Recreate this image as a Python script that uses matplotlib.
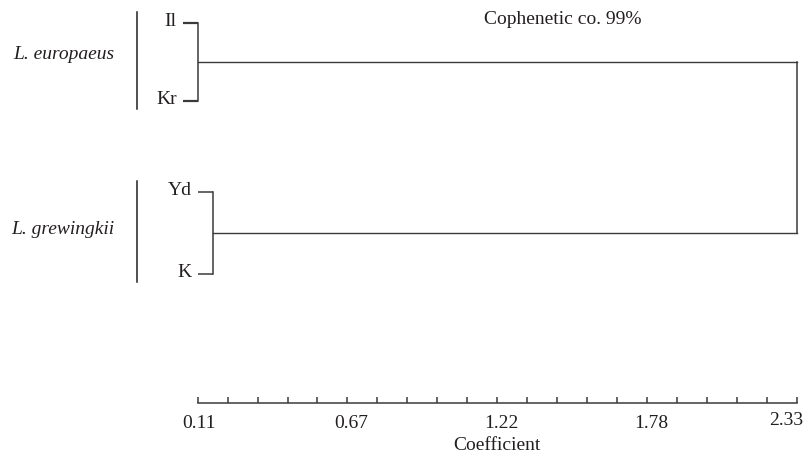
import numpy as np
import matplotlib
matplotlib.use("Agg")
import matplotlib.pyplot as plt
import matplotlib.transforms as mtransforms

# leaves, top to bottom, and the group they belong to
leaves = ["Il", "Kr", "Yd", "K"]
groups = ["L. europaeus", "L. grewingkii"]
group_members = [[0, 1], [2, 3]]
# coefficient where each pair joins, and the root join
pair_join = [0.11, 0.167]
root_join = 2.33
# axis ticks
tick_min, tick_max = 0.11, 2.33
tick_labels = ["0.11", "0.67", "1.22", "1.78", "2.33"]
title_txt = "Cophenetic co. 99%"
xlabel_txt = "Coefficient"

# layout (vertical positions in pixel rows, top = 0)
leaf_y = [22.7, 101, 192, 274]
stub = 0.056
axis_y = 402.7
W, H = 806, 457
px_unit = 269.8

plt.rcParams["font.family"] = ["Liberation Serif", "DejaVu Serif"]
col = "#231f20"
lcol = "#3a3a3a"

fig = plt.figure(figsize=(W / 100, H / 100), dpi=100)
ax = fig.add_axes([0, 0, 1, 1])
ax.set_xlim(tick_min - 197.7 / px_unit, tick_min - 197.7 / px_unit + W / px_unit)
ax.set_ylim(H, 0)

bt = mtransforms.blended_transform_factory(ax.transAxes, ax.transData)

# dendrogram
mids = []
for g, members in enumerate(group_members):
    j = pair_join[g]
    ys = [leaf_y[m] for m in members]
    lw = 1.6 if g == 0 else 1.1
    for m in members:
        ax.plot([j - stub, j], [leaf_y[m], leaf_y[m]], color=lcol, lw=lw,
                solid_capstyle="butt")
        ax.text(j - stub - 6 / px_unit, leaf_y[m] - 1.5, leaves[m], ha="right",
                va="center", fontsize=14, color=col)
    ax.plot([j, j], [min(ys), max(ys)], color=lcol, lw=1.1)
    mid = (min(ys) + max(ys)) / 2
    mids.append(mid)
    ax.plot([j, root_join], [mid, mid], color=lcol, lw=1.0)
    # group bracket and name
    ax.plot([137 / W, 137 / W], [min(ys) - 11, max(ys) + 8], color=col,
            lw=1.1, transform=bt)
    ax.text(114 / W, mid - (7 if g == 0 else 4), groups[g], ha="right",
            va="center", fontsize=14, style="italic", color=col, transform=bt)
ax.plot([root_join, root_join], [mids[0], mids[1]], color=lcol, lw=1.1)

# scale axis
for s in ["top", "left", "right"]:
    ax.spines[s].set_visible(False)
ax.spines["bottom"].set_position(("data", axis_y))
ax.spines["bottom"].set_bounds(tick_min, tick_max)
ax.spines["bottom"].set_color(lcol)
ax.spines["bottom"].set_linewidth(1.1)
ax.set_yticks([])
ticks = np.linspace(tick_min, tick_max, 21)
ax.set_xticks(ticks)
ax.set_xticklabels([tick_labels[i // 5] if i % 5 == 0 else "" for i in range(21)])
ax.tick_params(axis="x", direction="in", length=4, width=1.1, color=lcol,
               labelsize=14, labelcolor=col, pad=8.5)
for i, lab in enumerate(ax.get_xticklabels()):
    if i == 20:
        lab.set_horizontalalignment("right")
        off = mtransforms.ScaledTranslation(7 / 100, 3 / 100, fig.dpi_scale_trans)
    elif i > 0:
        off = mtransforms.ScaledTranslation(4 / 100, 0, fig.dpi_scale_trans)
    else:
        off = mtransforms.ScaledTranslation(1 / 100, 0, fig.dpi_scale_trans)
    lab.set_transform(lab.get_transform() + off)

ax.text(1.22, 446, xlabel_txt, ha="center", va="center", fontsize=14, color=col)
ax.text(563 / W, 19, title_txt, ha="center", va="center", fontsize=14,
        color=col, transform=bt)

fig.savefig("out.png", dpi=100)
